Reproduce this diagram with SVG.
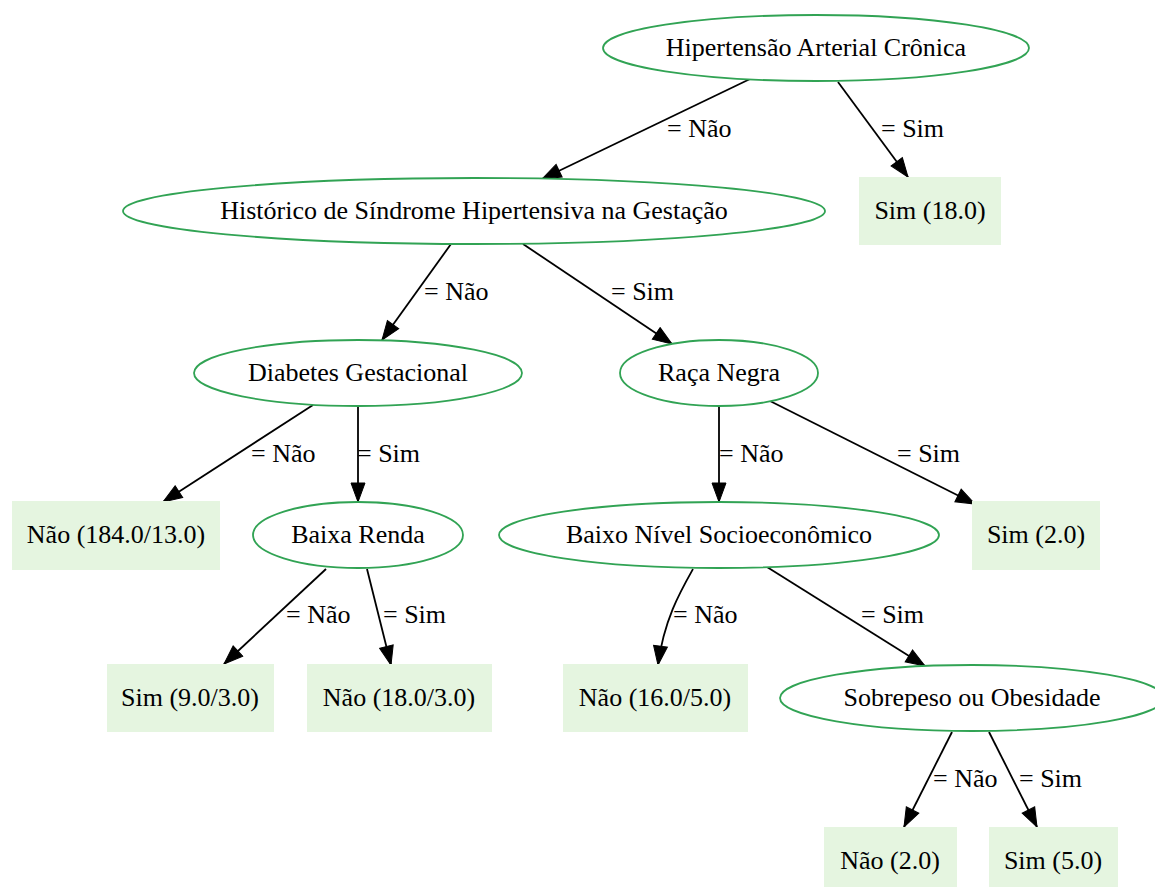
<svg xmlns="http://www.w3.org/2000/svg" width="1155" height="887" viewBox="0 0 1155 887">
<defs>
<style>
.dec ellipse{fill:#ffffff;stroke:#31a354;stroke-width:1.8}
.leaf rect{fill:#e5f5e0;stroke:none}
text{font-family:"Liberation Serif","Times New Roman",serif;font-size:26px;fill:#000}
.lbl{text-anchor:middle}
.edges path{fill:none;stroke:#000;stroke-width:1.8}
.elbl{text-anchor:start}
</style>
<marker id="arr" markerUnits="userSpaceOnUse" markerWidth="22" markerHeight="16" viewBox="0 -8 20 16" refX="19" refY="0" orient="auto">
<path d="M0,-7 L19,0 L0,7 Z" fill="#000" stroke="#000" stroke-width="1"/>
</marker>
</defs>
<rect width="1155" height="887" fill="#ffffff"/>

<g id="edges" class="edges">
<path d="M750,79 L542,179" marker-end="url(#arr)"/>
<path d="M838,82 L908,177" marker-end="url(#arr)"/>
<path d="M451,244 L382,340" marker-end="url(#arr)"/>
<path d="M523,244 L672,344" marker-end="url(#arr)"/>
<path d="M313,405 L163,502" marker-end="url(#arr)"/>
<path d="M358,406 L358,502" marker-end="url(#arr)"/>
<path d="M719,406 L719,502" marker-end="url(#arr)"/>
<path d="M770,401 L975,504" marker-end="url(#arr)"/>
<path d="M326,569 L224,664" marker-end="url(#arr)"/>
<path d="M367,569 L391,665" marker-end="url(#arr)"/>
<path d="M693,569 C680,592 664,620 658,665" marker-end="url(#arr)"/>
<path d="M767,567 L925,666" marker-end="url(#arr)"/>
<path d="M952,732 L904,827" marker-end="url(#arr)"/>
<path d="M989,732 L1037,827" marker-end="url(#arr)"/>
<text class="elbl" x="667" y="137">= Não</text>
<text class="elbl" x="881" y="137">= Sim</text>
<text class="elbl" x="424" y="300">= Não</text>
<text class="elbl" x="611" y="300">= Sim</text>
<text class="elbl" x="251" y="462">= Não</text>
<text class="elbl" x="357" y="462">= Sim</text>
<text class="elbl" x="719" y="462">= Não</text>
<text class="elbl" x="897" y="462">= Sim</text>
<text class="elbl" x="286" y="623">= Não</text>
<text class="elbl" x="383" y="623">= Sim</text>
<text class="elbl" x="673" y="623">= Não</text>
<text class="elbl" x="861" y="623">= Sim</text>
<text class="elbl" x="933" y="787">= Não</text>
<text class="elbl" x="1019" y="787">= Sim</text>
</g>

<g id="n_hac" class="dec"><ellipse cx="816" cy="48" rx="213" ry="33"/><text class="lbl" x="816" y="56">Hipertensão Arterial Crônica</text></g>
<g id="n_sim18" class="leaf"><rect x="859" y="177" width="142" height="68"/><text class="lbl" x="930" y="219">Sim (18.0)</text></g>
<g id="n_hist" class="dec"><ellipse cx="474" cy="211" rx="351" ry="33"/><text class="lbl" x="474" y="219">Histórico de Síndrome Hipertensiva na Gestação</text></g>
<g id="n_diab" class="dec"><ellipse cx="358" cy="373" rx="164" ry="33"/><text class="lbl" x="358" y="381">Diabetes Gestacional</text></g>
<g id="n_raca" class="dec"><ellipse cx="719" cy="373" rx="99" ry="33"/><text class="lbl" x="719" y="381">Raça Negra</text></g>
<g id="n_nao184" class="leaf"><rect x="12" y="501" width="208" height="69"/><text class="lbl" x="116" y="543">Não (184.0/13.0)</text></g>
<g id="n_renda" class="dec"><ellipse cx="358" cy="535" rx="105" ry="33"/><text class="lbl" x="358" y="543">Baixa Renda</text></g>
<g id="n_bns" class="dec"><ellipse cx="719" cy="535" rx="220" ry="33"/><text class="lbl" x="719" y="543">Baixo Nível Socioeconômico</text></g>
<g id="n_sim2" class="leaf"><rect x="972" y="501" width="128" height="69"/><text class="lbl" x="1036" y="543">Sim (2.0)</text></g>
<g id="n_sim9" class="leaf"><rect x="107" y="664" width="167" height="68"/><text class="lbl" x="190" y="706">Sim (9.0/3.0)</text></g>
<g id="n_nao18" class="leaf"><rect x="307" y="664" width="185" height="68"/><text class="lbl" x="399" y="706">Não (18.0/3.0)</text></g>
<g id="n_nao16" class="leaf"><rect x="563" y="664" width="185" height="68"/><text class="lbl" x="655" y="706">Não (16.0/5.0)</text></g>
<g id="n_sobre" class="dec"><ellipse cx="972" cy="698" rx="192" ry="33"/><text class="lbl" x="972" y="706">Sobrepeso ou Obesidade</text></g>
<g id="n_nao2" class="leaf"><rect x="824" y="827" width="133" height="68"/><text class="lbl" x="890" y="869">Não (2.0)</text></g>
<g id="n_sim5" class="leaf"><rect x="989" y="827" width="129" height="68"/><text class="lbl" x="1053" y="869">Sim (5.0)</text></g>
</svg>
